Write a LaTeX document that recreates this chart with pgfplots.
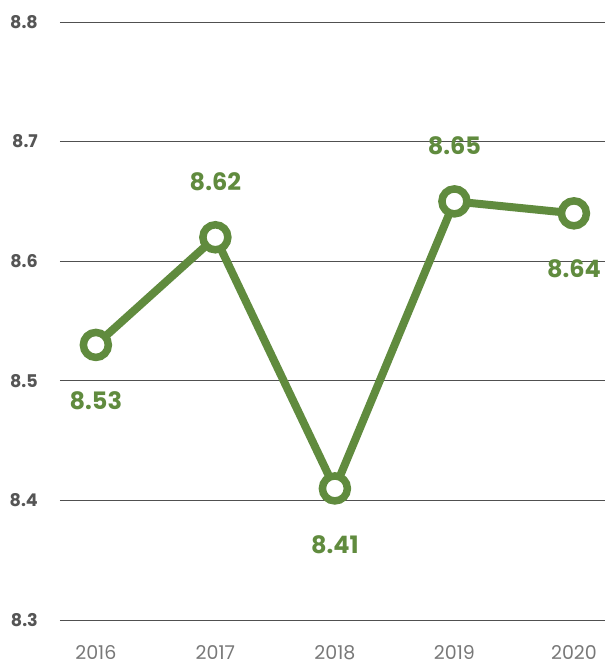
\documentclass[border=0pt]{standalone}
\usepackage{pgfplots}
\pgfplotsset{compat=1.18}
\usepackage{fontspec}
\setmainfont{Poppins}
\definecolor{leaf}{RGB}{96,139,62}
\definecolor{ticky}{RGB}{85,85,85}
\definecolor{tickx}{RGB}{120,120,120}
\definecolor{gridc}{RGB}{80,80,80}

\begin{document}
\begin{tikzpicture}[x=1pt,y=1pt]
\begin{axis}[
    at={(0,0)}, anchor=south west,
    width=545pt, height=598pt,
    scale only axis,
    xmin=-0.30, xmax=4.26,
    ymin=8.3, ymax=8.8,
    axis line style={draw=none},
    tick style={draw=none},
    clip=false,
    xtick={0,1,2,3,4},
    xticklabels={2016,2017,2018,2019,2020},
    ytick={8.3,8.4,8.5,8.6,8.7,8.8},
    yticklabels={8.3,8.4,8.5,8.6,8.7,8.8},
    major tick length=0pt,
    ymajorgrids=true,
    grid style={gridc, line width=0.9pt},
    xticklabel style={font=\fontsize{19}{22}\selectfont, text=tickx, anchor=north, inner sep=0pt, yshift=-25pt},
    yticklabel style={font=\fontsize{17.5}{20}\selectfont\bfseries, text=ticky, anchor=east, inner sep=0pt, xshift=-22pt},
    nodes near coords,
    point meta=explicit symbolic,
    visualization depends on={value \thisrow{anc}\as\myanchor},
    visualization depends on={value \thisrow{dy}\as\mydy},
    every node near coord/.append style={font=\fontsize{24}{27}\selectfont\bfseries, text=leaf, inner sep=0pt, anchor=\myanchor, yshift=\mydy pt},
]
\addplot[leaf, line width=8pt, mark=*, mark size=12.5pt,
    mark options={fill=white, draw=leaf, line width=7.5pt, scale=1}]
    table[x=x, y=y, meta=lab] {
x y    lab  anc   dy
0 8.53 8.53 north -43
1 8.62 8.62 south 43
2 8.41 8.41 north -43
3 8.65 8.65 south 43
4 8.64 8.64 north -43
};
\end{axis}
\pgfresetboundingbox
\path[use as bounding box] (-60,-48) rectangle (545,620);
\end{tikzpicture}
\end{document}
